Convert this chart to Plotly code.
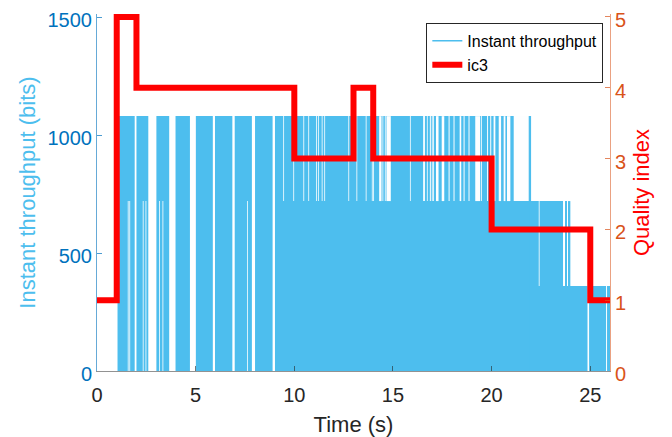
import plotly.graph_objects as go

# ---------------- data ----------------
# Instant throughput: blocks of received data, drawn from 0 up to a level (bits)
blk_start = [1.04, 2.00, 3.01, 3.98, 5.01, 5.98, 6.98, 8.01, 9.02, 21.90, 23.72, 23.89, 22.50]
blk_end   = [1.91, 2.60, 3.66, 4.71, 5.87, 6.86, 7.85, 8.90, 22.00, 23.62, 23.79, 23.99, 26.00]
blk_level = [1080, 1080, 1080, 1080, 1080, 1080, 1080, 1080, 1080, 720, 720, 720, 360]

# Short gaps inside the blocks: time span and the band (bits) that is empty
gap_start = [1.56, 1.64, 2.32, 2.46, 3.15, 3.32, 7.61,
             9.44, 9.95, 10.46, 10.71, 11.10, 11.20, 11.39, 11.52, 12.74, 13.15,
             13.62, 13.93, 14.00, 14.30, 14.47, 14.59, 14.67, 15.86, 16.53, 16.72,
             16.87, 16.97, 17.04, 17.18, 17.47, 17.82, 18.07, 18.38, 18.58, 18.83,
             19.17, 19.47, 19.77, 19.93, 20.10, 20.36, 20.61, 20.78, 21.12,
             22.39, 24.86, 25.80]
gap_end   = [1.60, 1.68, 2.36, 2.50, 3.19, 3.36, 7.65,
             9.48, 9.99, 10.50, 10.75, 11.14, 11.24, 11.43, 11.56, 12.78, 13.19,
             13.66, 13.97, 14.04, 14.42, 14.51, 14.63, 14.89, 15.90, 16.62, 16.76,
             16.92, 17.01, 17.08, 17.31, 17.60, 17.87, 18.12, 18.46, 18.63, 18.88,
             19.42, 19.51, 19.82, 19.98, 20.19, 20.48, 20.70, 20.95, 21.88,
             22.43, 24.94, 25.85]
gap_low   = [0, 0, 0, 0, 0, 0, 0,
             720, 720, 720, 720, 720, 720, 720, 720, 720, 720,
             720, 720, 720, 720, 720, 720, 720, 720, 720, 720,
             720, 720, 720, 720, 720, 720, 720, 720, 720, 720,
             720, 720, 720, 720, 720, 720, 720, 720, 720,
             360, 0, 0]
gap_high  = [720, 720, 720, 720, 720, 720, 720,
             1080, 1080, 1080, 1080, 1080, 1080, 1080, 1080, 1080, 1080,
             1080, 1080, 1080, 1080, 1080, 1080, 1080, 1080, 1080, 1080,
             1080, 1080, 1080, 1080, 1080, 1080, 1080, 1080, 1080, 1080,
             1080, 1080, 1080, 1080, 1080, 1080, 1080, 1080, 1080,
             720, 360, 360]

# Quality index (ic3), step changes
q_time  = [0, 1, 2, 10, 13, 14, 20, 25, 26]
q_value = [1, 5, 4, 3, 4, 3, 2, 1, 1]

x_ticks  = [0, 5, 10, 15, 20, 25]
y_ticks  = [0, 500, 1000, 1500]
y2_ticks = [0, 1, 2, 3, 4, 5]

# ---------------- styling ----------------
BLUE_FILL = "#4DBEEE"
FONT = "Liberation Sans, Arial, Helvetica, sans-serif"

fig = go.Figure()

# throughput blocks
fig.add_trace(go.Bar(
    x=blk_start,
    y=blk_level,
    base=[0] * len(blk_start),
    width=[e - s for s, e in zip(blk_start, blk_end)],
    offset=0,
    marker=dict(color=BLUE_FILL, line=dict(width=0)),
    showlegend=False, hoverinfo="skip",
))
# empty bands inside the blocks
fig.add_trace(go.Bar(
    x=gap_start,
    y=[h - l for l, h in zip(gap_low, gap_high)],
    base=gap_low,
    width=[e - s for s, e in zip(gap_start, gap_end)],
    offset=0,
    marker=dict(color="rgba(255,255,255,0.99)", line=dict(width=0)),
    showlegend=False, hoverinfo="skip",
))
# legend entry for throughput (line sample, like the original)
fig.add_trace(go.Scatter(
    x=[None], y=[None], mode="lines",
    line=dict(color=BLUE_FILL, width=1.5),
    name="Instant throughput",
))
# quality index
fig.add_trace(go.Scatter(
    x=q_time, y=q_value, yaxis="y2", mode="lines",
    line=dict(color="#FF0000", width=6, shape="hv"),
    name="ic3",
))

fig.update_layout(
    width=664, height=429,
    margin=dict(l=89, r=62, t=6, b=66, autoexpand=False),
    paper_bgcolor="white", plot_bgcolor="white",
    barmode="overlay",
    font=dict(family=FONT),
    xaxis=dict(
        range=[0, 26], tickvals=x_ticks, showgrid=False, zeroline=False,
        automargin=False,
        ticks="inside", ticklen=5, tickcolor="rgba(38,38,38,0.6)",
        showline=True, linecolor="rgba(38,38,38,0.5)", linewidth=1,
        tickfont=dict(size=20, color="#262626"), ticklabelstandoff=6,
        title=dict(text="Time (s)", font=dict(size=22, color="#262626"), standoff=11),
    ),
    yaxis=dict(
        range=[0, 1512.7], tickvals=y_ticks, showgrid=False, zeroline=False,
        automargin=False, ticklabeloverflow="allow", ticklabelshift=3,
        ticks="inside", ticklen=5, tickcolor="rgba(0,114,189,0.7)",
        showline=True, linecolor="rgba(0,114,189,0.6)", linewidth=1,
        tickfont=dict(size=20, color="#0072BD"),
        title=dict(text="Instant throughput (bits)", font=dict(size=22, color=BLUE_FILL), standoff=5),
    ),
    yaxis2=dict(
        overlaying="y", side="right", anchor="x",
        automargin=False, ticklabeloverflow="allow", ticklabelshift=3,
        range=[0, 5.042], tickvals=y2_ticks, showgrid=False, zeroline=False,
        ticks="inside", ticklen=5, tickcolor="rgba(217,83,25,0.7)",
        showline=True, linecolor="rgba(217,83,25,0.55)", linewidth=1,
        tickfont=dict(size=20, color="#D95319"),
        title=dict(text="Quality index", font=dict(size=22, color="#FF0000"), standoff=8),
    ),
    legend=dict(
        x=0.987, xanchor="right", y=0.975, yanchor="top",
        bgcolor="white", bordercolor="#262626", borderwidth=1,
        font=dict(size=16, color="#000000"),
        itemwidth=30, tracegroupgap=0,
    ),
)

fig.write_html("out.html")
